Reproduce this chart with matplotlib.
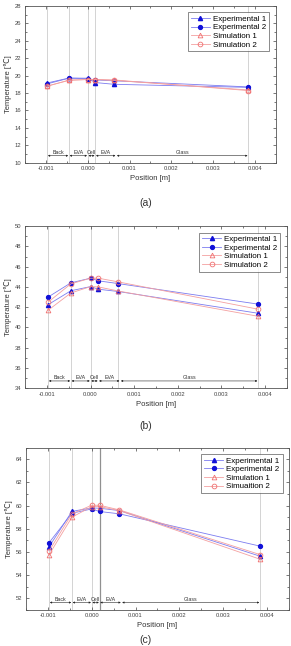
import matplotlib
matplotlib.use("Agg")
import matplotlib.pyplot as plt
from matplotlib.ticker import MultipleLocator, AutoMinorLocator

plt.rcParams['font.family'] = ['Liberation Sans', 'DejaVu Sans']

# --- Daten ---
positions = [-0.00097, -0.00045, 0.0, 0.00018, 0.00063, 0.00384]

# (a)
exp1_a = [19.15, 19.72, 19.70, 19.20, 19.00, 18.65]
exp2_a = [19.05, 19.70, 19.65, 19.50, 19.40, 18.70]
sim1_a = [18.80, 19.45, 19.55, 19.55, 19.45, 18.35]
sim2_a = [18.78, 19.48, 19.55, 19.55, 19.50, 18.28]

# (b)
exp1_b = [42.25, 43.62, 44.03, 43.77, 43.55, 41.40]
exp2_b = [43.00, 44.40, 44.86, 44.60, 44.33, 42.30]
sim1_b = [41.70, 43.40, 44.03, 44.00, 43.60, 41.10]
sim2_b = [42.50, 44.30, 44.86, 44.86, 44.50, 41.80]

# (c)
exp1_c = [56.45, 59.50, 59.80, 59.77, 59.57, 55.63]
exp2_c = [56.80, 59.34, 59.71, 59.49, 59.29, 56.50]
sim1_c = [55.77, 59.00, 59.91, 59.91, 59.57, 55.37]
sim2_c = [56.09, 59.29, 60.03, 60.03, 59.63, 55.77]

legend_a = ["Experimental 1", "Experimental 2", "Simulation 1", "Simulation 2"]
legend_c = ["Experimental 1", "Experimental 2", "Simulation 1", "Simuaition 2"]

layers = ["Back", "EVA", "Cell", "EVA", "Glass"]
layer_bounds = [-0.00097, -0.00045, 0.0, 0.00018, 0.00068, 0.00384]

BLUE = '#1010d8'
BLUE_LINE = '#7c7cf0'
RED = '#f07070'
RED_LINE = '#f4a0a0'

panels = [
    dict(rect=[0.086, 0.748, 0.862, 0.243], ylim=(10, 28), ystep=2,
         data=(exp1_a, exp2_a, sim1_a, sim2_a), labels=legend_a,
         vlines=[-0.00097, -0.00045, 0.0, 0.00018, 0.00384],
         cap="(a)", capy=0.686),
    dict(rect=[0.086, 0.399, 0.900, 0.251], ylim=(34, 50), ystep=2,
         data=(exp1_b, exp2_b, sim1_b, sim2_b), labels=legend_a,
         vlines=[-0.00097, -0.00045, 0.0, 0.00063, 0.00384],
         cap="(b)", capy=0.340),
    dict(rect=[0.089, 0.056, 0.904, 0.251], ylim=(51, 65), ystep=2,
         data=(exp1_c, exp2_c, sim1_c, sim2_c), labels=legend_c,
         vlines=[-0.00097, -0.00045, 0.0, 0.00384],
         cap="(c)", capy=0.010),
]

fig = plt.figure(figsize=(2.91, 6.46), dpi=100)

for p in panels:
    ax = fig.add_axes(p['rect'])
    for xv in p['vlines']:
        ax.axvline(xv, color='#cccccc', lw=0.6, zorder=0)
    if p['cap'] == "(c)":
        ax.axvline(0.00018, color='#909090', lw=0.9, zorder=0)

    e1, e2, s1, s2 = p['data']
    lab = p['labels']
    ax.plot(positions, e1, '-^', color=BLUE_LINE, mfc=BLUE, mec=BLUE, lw=0.6, ms=3.0, label=lab[0])
    ax.plot(positions, e2, '-o', color=BLUE_LINE, mfc=BLUE, mec=BLUE, lw=0.6, ms=2.8, label=lab[1])
    ax.plot(positions, s1, '-^', color=RED_LINE, mec=RED, lw=0.6, ms=3.4, mfc='none', mew=0.6, label=lab[2])
    ax.plot(positions, s2, '-o', color=RED_LINE, mec=RED, lw=0.6, ms=3.4, mfc='none', mew=0.6, label=lab[3])

    ax.set_xlim(-0.0015, 0.0045)
    ax.set_ylim(*p['ylim'])
    ax.yaxis.set_major_locator(MultipleLocator(p['ystep']))
    ax.xaxis.set_minor_locator(AutoMinorLocator(2))
    ax.yaxis.set_minor_locator(AutoMinorLocator(2))
    ax.set_xticks([-0.001, 0.0, 0.001, 0.002, 0.003, 0.004])
    ax.set_xticklabels(["-0.001", "0.000", "0.001", "0.002", "0.003", "0.004"])
    ax.tick_params(which='both', direction='in', top=True, right=True,
                   labelsize=4.2, width=0.5, pad=2.5, colors='#444444')
    ax.tick_params(which='major', length=2.5)
    ax.tick_params(which='minor', length=1.3)
    for sp in ax.spines.values():
        sp.set_linewidth(0.6)
        sp.set_color('#555555')

    ax.set_xlabel("Position [m]", fontsize=5.5, labelpad=3, color='#333333')
    ax.set_ylabel("Temperature [℃]", fontsize=5.5, labelpad=2, color='#333333')

    # Schichtbeschriftungen mit Doppelpfeilen
    y0, y1 = p['ylim']
    ya = y0 + 0.045 * (y1 - y0)
    for name, xa, xb in zip(layers, layer_bounds[:-1], layer_bounds[1:]):
        ax.annotate('', xy=(xa, ya), xytext=(xb, ya),
                    arrowprops=dict(arrowstyle='<|-|>', lw=0.4, color='#222222',
                                    mutation_scale=2.5, shrinkA=0.5, shrinkB=0.5))
        ax.text((xa + xb) / 2, ya + 0.005 * (y1 - y0), name, fontsize=3.8,
                ha='center', va='bottom', color='#333333')

    leg = ax.legend(loc='upper right', fontsize=5.8, frameon=True, fancybox=False,
                    borderpad=0.35, labelspacing=0.12, handlelength=2.4,
                    handletextpad=0.4, borderaxespad=0.8)
    leg.get_frame().set_edgecolor('#333333')
    leg.get_frame().set_linewidth(0.5)

    fig.text(0.5, p['capy'], p['cap'], ha='center', va='center', fontsize=7.5,
             color='#333333')

fig.savefig("out.png", dpi=100)
